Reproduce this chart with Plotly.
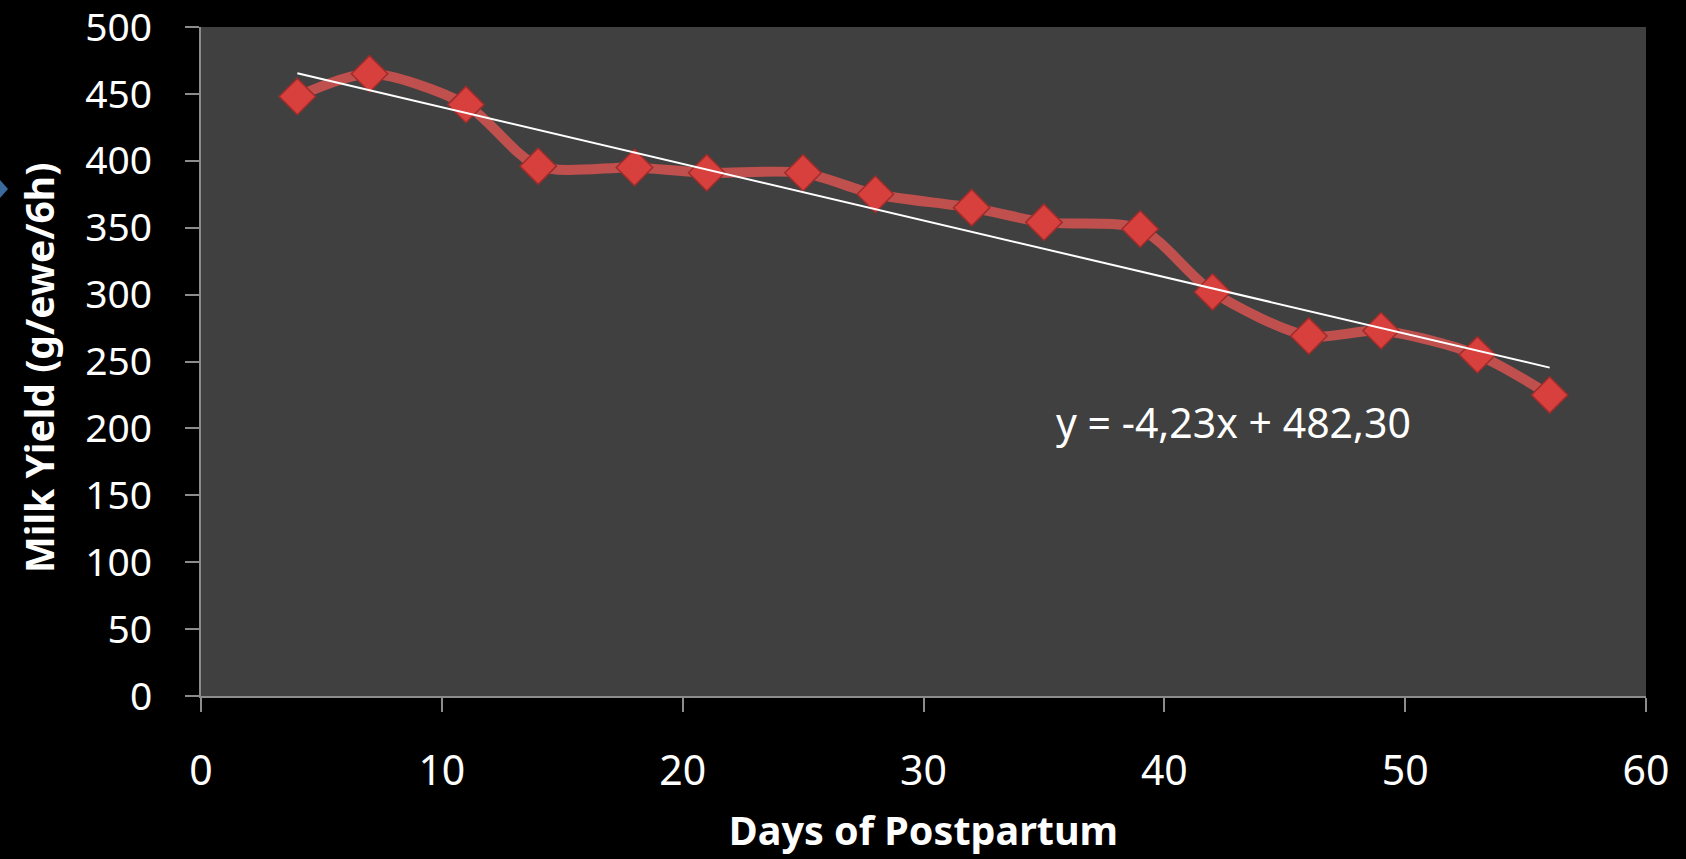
import plotly.graph_objects as go

days = [4, 7, 11, 14, 18, 21, 25, 28, 32, 35, 39, 42, 46, 49, 53, 56]
milk_yield = [448, 465, 442, 396, 395, 391, 391, 375, 365, 354, 349, 302, 269, 273, 255, 225]
trend_slope = -4.23
trend_intercept = 482.30
trend_x = [days[0], days[-1]]
trend_y = [trend_slope * v + trend_intercept for v in trend_x]
equation_text = "y = -4,23x + 482,30"
x_ticks = [0, 10, 20, 30, 40, 50, 60]
y_ticks = [0, 50, 100, 150, 200, 250, 300, 350, 400, 450, 500]

FONT = "Noto Sans"

fig = go.Figure()
fig.add_trace(go.Scatter(
    x=days, y=milk_yield, mode="lines+markers",
    line=dict(color="#C0504D", width=10, shape="spline", smoothing=0.8),
    marker=dict(symbol="diamond", size=28, color="#D8403E",
                line=dict(color="#9E2C2A", width=1.5)),
    showlegend=False, hoverinfo="x+y",
))
fig.add_trace(go.Scatter(
    x=trend_x, y=trend_y, mode="lines",
    line=dict(color="#FFFFFF", width=2), showlegend=False,
))

fig.add_annotation(
    x=35.4, y=205, xref="x", yref="y", text=equation_text, showarrow=False,
    xanchor="left", yanchor="middle", font=dict(family=FONT, size=41, color="#FFFFFF"),
)

L, R, T, B = 201, 1646, 27, 696
def px(xp): return (xp - L) / (R - L)
def py(yp): return (B - yp) / (B - T)

# y-axis title
fig.add_annotation(
    x=px(38), y=py(368), xref="paper", yref="paper", text="<b>Milk Yield (g/ewe/6h)</b>",
    textangle=-90, showarrow=False, xanchor="center", yanchor="middle",
    font=dict(family=FONT, size=39, color="#FFFFFF"),
)

# small blue arrow at left edge
fig.add_shape(type="path", xref="paper", yref="paper",
              path=f"M {px(0)},{py(180)} L {px(8)},{py(189)} L {px(0)},{py(198)} Z",
              fillcolor="#3C6A9E", line=dict(width=0))

fig.update_layout(
    width=1686, height=859,
    margin=dict(l=L, r=1686 - R, t=T, b=859 - B),
    paper_bgcolor="#000000", plot_bgcolor="#404040",
    font=dict(family=FONT, color="#FFFFFF"),
)
fig.update_xaxes(
    range=[0, 60], tickvals=x_ticks, showgrid=False, zeroline=False,
    showline=True, linecolor="#8C8C8C", linewidth=2,
    ticks="outside", ticklen=14, tickcolor="#8C8C8C", tickwidth=2,
    tickfont=dict(family=FONT, size=41, color="#FFFFFF"), ticklabelstandoff=24,
    ticklabeloverflow="allow", automargin=False,
    title=dict(text="<b>Days of Postpartum</b>", font=dict(family=FONT, size=39.5, color="#FFFFFF"), standoff=21),
)
fig.update_yaxes(
    range=[0, 500], tickvals=y_ticks, showgrid=False, zeroline=False,
    showline=True, linecolor="#8C8C8C", linewidth=2,
    ticks="outside", ticklen=14, tickcolor="#8C8C8C", tickwidth=2,
    tickfont=dict(family=FONT, size=39, color="#FFFFFF"), ticklabelstandoff=25,
    ticklabeloverflow="allow", automargin=False,
)

fig.write_html("out.html", config={"displayModeBar": False},
               post_script="document.body.style.margin='0';document.body.style.background='#000';")
